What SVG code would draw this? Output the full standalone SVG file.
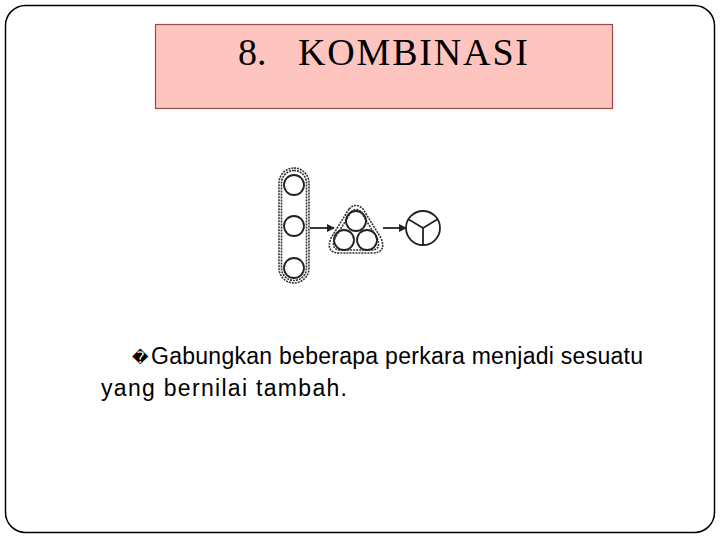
<svg xmlns="http://www.w3.org/2000/svg" width="720" height="540" viewBox="0 0 720 540">
<style>
.frame{fill:#fff;stroke:#000;stroke-width:1.5}
.title{fill:#fec4c0;stroke:#9a4a44;stroke-width:1.2}
.tt{font-family:"Liberation Serif",serif;font-size:38px;fill:#000}
.body{font-family:"Liberation Sans",Arial,sans-serif;font-size:23px;fill:#000}
.c{fill:none;stroke:#222;stroke-width:1.8}
.d{fill:none;stroke:#333;stroke-width:1.6;stroke-dasharray:2 1}
.ln{stroke:#222;stroke-width:1.8;fill:none}
</style>
<defs>
<marker id="ah" markerWidth="8" markerHeight="8" refX="7" refY="4" orient="auto" markerUnits="userSpaceOnUse">
<path d="M0,0 L8,4 L0,8 Z" fill="#222"/>
</marker>
</defs>
<rect class="frame" x="5.5" y="5.5" width="709" height="527" rx="20"/>
<g id="title">
<rect class="title" x="155.5" y="24.5" width="457" height="84"/>
<text class="tt" x="238" y="65">8.</text>
<text class="tt" x="298" y="65" textLength="230">KOMBINASI</text>
</g>
<g id="capsule">
<rect class="d" x="279" y="168" width="30" height="115" rx="15"/>
<rect class="d" x="281.5" y="170.5" width="25" height="110" rx="12.5"/>
<circle class="c" cx="294" cy="185" r="10"/>
<circle class="c" cx="294" cy="226" r="10"/>
<circle class="c" cx="294" cy="268" r="10"/>
</g>
<g id="triangle">
<path class="d" d="M349,209 Q356,202 363,209 L381,238 Q387,253 372,253 L340,253 Q325,253 331,238 Z"/>
<path class="d" d="M351,212 Q356,207 361,212 L377,238 Q382,250 371,250 L341,250 Q330,250 335,238 Z"/>
<circle class="c" cx="356" cy="221" r="10"/>
<circle class="c" cx="344" cy="240" r="10"/>
<circle class="c" cx="367" cy="240" r="10"/>
</g>
<g id="result">
<circle class="c" cx="423" cy="228" r="17"/>
<path class="ln" d="M423,228 L423,245 M423,228 L408,219 M423,228 L438,219"/>
</g>
<g id="connectors">
<line class="ln" x1="310" y1="228" x2="334" y2="228" marker-end="url(#ah)"/>
<line class="ln" x1="383" y1="228" x2="406" y2="228" marker-end="url(#ah)"/>
</g>
<g id="text">
<text x="132" y="363" font-family="DejaVu Sans" font-size="16">�</text>
<text class="body" x="151" y="364" textLength="492">Gabungkan beberapa perkara menjadi sesuatu</text>
<text class="body" x="101" y="396" textLength="246">yang bernilai tambah.</text>
</g>
</svg>
